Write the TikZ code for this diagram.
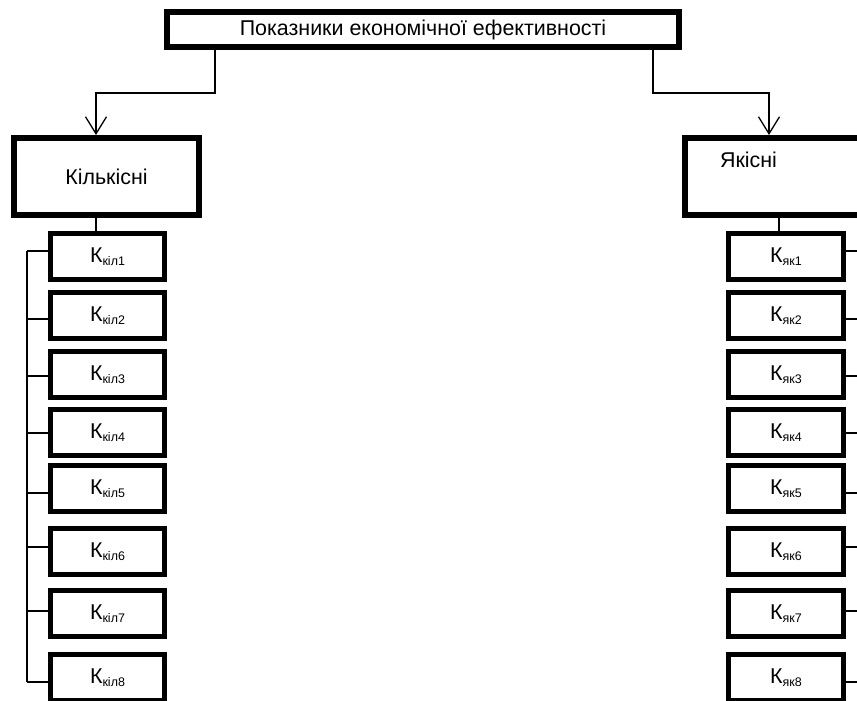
\documentclass[tikz,border=0pt]{standalone}
\usepackage{fontspec}
\setmainfont{Liberation Sans}
\usetikzlibrary{arrows.meta}
\newcommand\lowsub[1]{\raisebox{-3bp}{\fontsize{12.5}{14}\selectfont #1}}
\begin{document}
\begin{tikzpicture}[x=1bp,y=-1bp,
  bigbox/.style={draw=black,line width=6bp,fill=white,inner sep=0pt},
  kbox/.style={draw=black,line width=5bp,fill=white,inner sep=0pt,minimum width=114.5bp,minimum height=46bp},
  link/.style={draw=black,line width=1.3bp},
  arr/.style={link,-{Straight Barb[length=17bp,width=21bp]}},
  lbl/.style={font=\fontsize{21.5}{25}\selectfont}]
\useasboundingbox (0,0) rectangle (857,701);
\fill[white] (0,0) rectangle (857,701);
\clip (0,0) rectangle (857,701);
% main boxes
\node[bigbox,lbl,minimum width=512bp,minimum height=35bp] (top) at (423,29.5) {Показники економічної ефективності};
\node[bigbox,lbl,minimum width=185bp,minimum height=77bp] (kil) at (106.5,176.5) {Кількісні};
\node[bigbox,minimum width=215bp,minimum height=77bp] (yak) at (792.5,176.5) {};
\node[lbl,inner sep=0pt] (yaktxt) at (748.5,159.5) {Якісні};
% connectors from the top box
\coordinate (j0) at (215,93);
\coordinate (j1) at (96,93);
\coordinate (j2) at (653,93);
\coordinate (j3) at (769,93);
\coordinate (j4) at (779,0);
\draw[arr] (top.south -| j0) -- (j0) -- (j1) -- (kil.north -| j1);
\draw[arr] (top.south -| j2) -- (j2) -- (j3) -- (yak.north -| j3);
% indicator boxes
\foreach \i/\cy/\sy in {1/256.5/251,2/315.5/319,3/374.5/376,4/432.5/433,5/488.5/493,6/551.5/547,7/613.5/611,8/677.5/682}{
  \node[kbox,lbl] (kil\i) at (107.5,\cy) {К\lowsub{кіл\i}};
  \node[kbox,lbl] (yak\i) at (786,\cy) {К\lowsub{як\i}};
  \coordinate (ls\i) at (27,\sy);
  \coordinate (rs\i) at (872,\sy);
  \draw[link] (ls\i) -- (ls\i -| kil\i.west);
  \draw[link] (yak\i.east |- rs\i) -- (rs\i);
}
\draw[link] (ls1) -- (ls8);
\draw[link] (rs1) -- (rs8);
\draw[link] (kil.south -| j1) -- (kil1.north -| j1);
\draw[link] (yak.south -| j4) -- (yak1.north -| j4);
\end{tikzpicture}
\end{document}
